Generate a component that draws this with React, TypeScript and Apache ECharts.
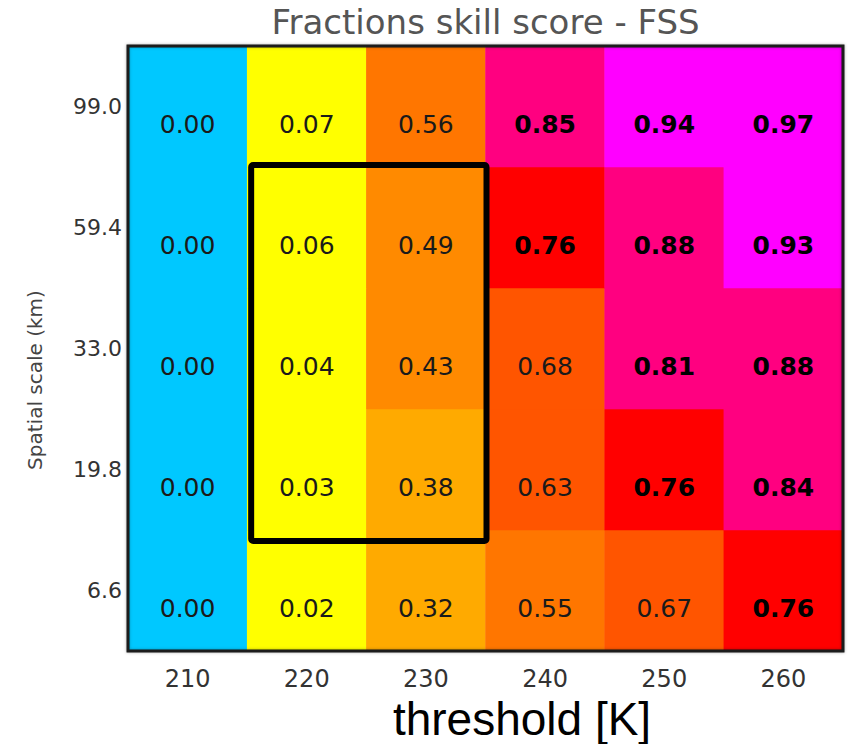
import React, { useEffect, useRef } from "react";
import * as echarts from "echarts";

// Brightness-temperature thresholds (columns) and spatial scales (rows, bottom to top)
const thresholds = ["210", "220", "230", "240", "250", "260"];
const scales = ["6.6", "19.8", "33.0", "59.4", "99.0"];

// FSS per spatial scale, one value per threshold
const fss66 = [0.0, 0.02, 0.32, 0.55, 0.67, 0.76];
const fss198 = [0.0, 0.03, 0.38, 0.63, 0.76, 0.84];
const fss330 = [0.0, 0.04, 0.43, 0.68, 0.81, 0.88];
const fss594 = [0.0, 0.06, 0.49, 0.76, 0.88, 0.93];
const fss990 = [0.0, 0.07, 0.56, 0.85, 0.94, 0.97];
const rows = [fss66, fss198, fss330, fss594, fss990];

// Highlighted block of cells
const boxThresholds = ["220", "230"];
const boxScales = ["19.8", "59.4"];

// Discrete colour classes
const pieces = [
  { min: 0, max: 0.01, color: "#00C8FF" },
  { min: 0.01, max: 0.3, color: "#FFFF00" },
  { min: 0.3, max: 0.4, color: "#FFAA00" },
  { min: 0.4, max: 0.5, color: "#FF8A00" },
  { min: 0.5, max: 0.6, color: "#FF7600" },
  { min: 0.6, max: 0.7, color: "#FF5500" },
  { min: 0.7, max: 0.8, color: "#FF0000" },
  { min: 0.8, max: 0.9, color: "#FF0080" },
  { min: 0.9, max: 1.0, color: "#FF00FF" },
];

const FONT = "DejaVu Sans";
const GRID = { left: 128, right: 6, top: 46, bottom: 93 };

export default function App() {
  const ref = useRef<HTMLDivElement>(null);

  useEffect(() => {
    if (!ref.current) return;
    const chart = echarts.init(ref.current, null, { renderer: "svg" });

    const data: [number, number, number][] = [];
    rows.forEach((vals, yi) => vals.forEach((v, xi) => data.push([xi, yi, v])));

    chart.setOption({
      animation: false,
      backgroundColor: "#ffffff",
      grid: { ...GRID, containLabel: false },
      xAxis: {
        type: "category",
        data: thresholds,
        axisLine: { show: false },
        axisTick: { show: false },
        axisLabel: { fontFamily: FONT, fontSize: 24, color: "#333333", margin: 16 },
        splitLine: { show: false },
      },
      yAxis: {
        type: "category",
        data: scales,
        axisLine: { show: false },
        axisTick: { show: false },
        axisLabel: { fontFamily: FONT, fontSize: 22, color: "#333333", margin: 6 },
        splitLine: { show: false },
      },
      visualMap: {
        type: "piecewise",
        show: false,
        dimension: 2,
        seriesIndex: 0,
        pieces,
      },
      series: [
        {
          type: "heatmap",
          data,
          z: 1,
          itemStyle: { borderWidth: 0 },
          label: {
            show: true,
            offset: [0, 18],
            formatter: (p: any) => {
              const v = p.value[2] as number;
              return v >= 0.7 ? `{b|${v.toFixed(2)}}` : `{n|${v.toFixed(2)}}`;
            },
            rich: {
              n: { fontFamily: FONT, fontSize: 25, color: "#1a1a1a", fontWeight: "normal" },
              b: { fontFamily: FONT, fontSize: 25, color: "#000000", fontWeight: "bold" },
            },
          },
          emphasis: { disabled: true },
        },
        {
          // plot frame around the whole grid
          type: "custom",
          z: 8,
          clip: false,
          silent: true,
          data: [[0, 0]],
          renderItem: (params: any) => {
            const cs = params.coordSys;
            return {
              type: "rect",
              shape: { x: cs.x, y: cs.y, width: cs.width, height: cs.height },
              style: {
                fill: "none",
                stroke: "#1a1a1a",
                lineWidth: 3,
                shadowBlur: 3,
                shadowColor: "rgba(0,0,0,0.3)",
              },
            };
          },
        },
        {
          // highlight box around the selected thresholds/scales
          type: "custom",
          z: 10,
          clip: false,
          silent: true,
          data: [[boxThresholds[0], boxScales[0]]],
          renderItem: (_params: any, api: any) => {
            const x0 = thresholds.indexOf(boxThresholds[0]);
            const x1 = thresholds.indexOf(boxThresholds[1]);
            const y0 = scales.indexOf(boxScales[0]);
            const y1 = scales.indexOf(boxScales[1]);
            const a = api.coord([x0, y1]);
            const b = api.coord([x1, y0]);
            const size = api.size([1, 1]);
            const w = size[0];
            const h = size[1];
            const left = a[0] - w / 2 + 4;
            const right = b[0] + w / 2 + 1;
            const top = a[1] - h / 2 - 2;
            const bottom = b[1] + h / 2 + h * 0.09;
            return {
              type: "rect",
              shape: { x: left, y: top, width: right - left, height: bottom - top, r: 2 },
              style: { fill: "none", stroke: "#000000", lineWidth: 6 },
            };
          },
        },
      ],
      graphic: [
        {
          type: "text",
          x: GRID.left + (849 - GRID.left - GRID.right) / 2,
          y: 22,
          style: {
            text: "Fractions skill score - FSS",
            fontFamily: FONT,
            fontSize: 34,
            fill: "#555555",
            align: "center",
            verticalAlign: "middle",
          },
        },
        {
          type: "text",
          x: 35,
          y: 380,
          rotation: Math.PI / 2,
          style: {
            text: "Spatial scale (km)",
            fontFamily: FONT,
            fontSize: 20,
            fill: "#444444",
            align: "center",
            verticalAlign: "middle",
          },
        },
        {
          type: "text",
          x: 522,
          y: 719,
          style: {
            text: "threshold [K]",
            fontFamily: "Liberation Sans",
            fontSize: 46,
            fill: "#000000",
            align: "center",
            verticalAlign: "middle",
          },
        },
      ],
    });

    return () => chart.dispose();
  }, []);

  return (
    <div
      ref={ref}
      style={{ position: "absolute", left: 0, top: 0, width: 849, height: 744 }}
    />
  );
}
